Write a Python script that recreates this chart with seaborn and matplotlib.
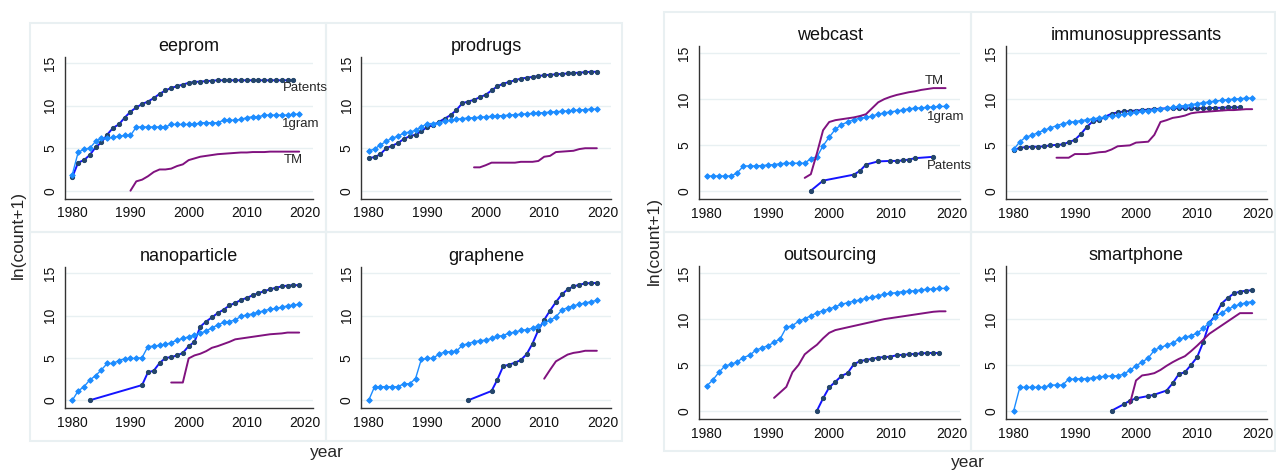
import matplotlib
matplotlib.use("Agg")
import matplotlib.pyplot as plt
from matplotlib.patches import Rectangle
import seaborn as sns

# ---------------- data (ln(count+1)) ----------------
eeprom_pat_years = list(range(1980, 2019))
eeprom_pat = [1.6, 3.3, 3.6, 4.2, 5.1, 5.7, 6.6, 7.4, 7.8, 8.6,
              9.3, 9.8, 10.2, 10.5, 10.9, 11.4, 11.8, 12.1, 12.3, 12.5,
              12.7, 12.8, 12.85, 12.9, 12.95, 13.0, 13.0, 13.0, 13.0, 13.0,
              13.0, 13.0, 13.0, 13.0, 13.0, 13.0, 13.0, 13.0, 13.0]
eeprom_gram_years = list(range(1980, 2020))
eeprom_gram = [1.9, 4.5, 4.9, 5.0, 5.8, 6.2, 6.2, 6.3, 6.4, 6.5,
               6.5, 7.5, 7.5, 7.5, 7.5, 7.5, 7.5, 7.8, 7.8, 7.8,
               7.8, 7.8, 8.0, 8.0, 8.0, 8.0, 8.3, 8.3, 8.3, 8.4,
               8.6, 8.7, 8.7, 8.9, 8.9, 8.9, 8.9, 8.9, 9.0, 9.0]
eeprom_tm_years = list(range(1990, 2020))
eeprom_tm = [0.0, 1.1, 1.3, 1.7, 2.2, 2.5, 2.5, 2.6, 2.9, 3.1,
             3.6, 3.8, 4.0, 4.1, 4.2, 4.3, 4.35, 4.4, 4.45, 4.5,
             4.5, 4.55, 4.55, 4.55, 4.6, 4.6, 4.6, 4.6, 4.6, 4.6]

prodrugs_pat_years = list(range(1980, 2020))
prodrugs_pat = [3.85, 3.95, 4.3, 5.0, 5.3, 5.6, 6.1, 6.4, 6.6, 7.0,
                7.5, 7.7, 8.1, 8.5, 8.9, 9.5, 10.3, 10.5, 10.7, 11.0,
                11.3, 11.8, 12.3, 12.6, 12.8, 13.0, 13.2, 13.3, 13.4, 13.5,
                13.6, 13.65, 13.7, 13.75, 13.8, 13.85, 13.9, 13.95, 14.0, 14.0]
prodrugs_gram_years = list(range(1980, 2020))
prodrugs_gram = [4.7, 4.9, 5.4, 5.8, 6.2, 6.4, 6.8, 6.9, 7.1, 7.5,
                 7.9, 7.9, 8.0, 8.2, 8.3, 8.4, 8.5, 8.55, 8.6, 8.65,
                 8.7, 8.75, 8.8, 8.85, 8.9, 8.95, 9.0, 9.05, 9.1, 9.15,
                 9.2, 9.25, 9.3, 9.35, 9.4, 9.45, 9.5, 9.55, 9.6, 9.6]
prodrugs_tm_years = list(range(1998, 2020))
prodrugs_tm = [2.75, 2.75,
               3.0, 3.3, 3.3, 3.3, 3.3, 3.3, 3.4, 3.4, 3.4, 3.5,
               4.0, 4.1, 4.55, 4.6, 4.65, 4.7, 4.9, 5.0, 5.0, 5.0]

nano_pat_years = [1983] + list(range(1992, 2020))
nano_pat = [0.0, 1.8, 3.3, 3.5, 4.4, 5.0, 5.1, 5.3, 5.6,
            6.4, 6.9, 8.7, 9.3, 9.8, 10.3, 10.7, 11.2, 11.5, 11.85,
            12.1, 12.4, 12.65, 12.9, 13.1, 13.3, 13.45, 13.55, 13.6, 13.6]
nano_gram_years = list(range(1980, 2020))
nano_gram = [0.0, 1.1, 1.6, 2.4, 2.9, 3.6, 4.35, 4.35, 4.7, 4.9,
             4.95, 4.95, 5.05, 6.35, 6.4, 6.5, 6.6, 6.8, 7.1, 7.3,
             7.5, 7.7, 7.9, 8.2, 8.55, 8.9, 9.2, 9.3, 9.5, 9.9,
             10.1, 10.2, 10.4, 10.6, 10.75, 10.85, 11.0, 11.15, 11.25, 11.35]
nano_tm_years = list(range(1997, 2020))
nano_tm = [2.1, 2.1, 2.1,
           4.95, 5.3, 5.5, 5.8, 6.2, 6.4, 6.65, 6.9, 7.2, 7.3,
           7.4, 7.5, 7.6, 7.7, 7.8, 7.85, 7.9, 8.0, 8.0, 8.0]

graphene_pat_years = [1997] + list(range(2001, 2020))
graphene_pat = [0.0, 1.1, 2.45, 4.05, 4.2, 4.45, 4.75, 5.45, 6.7, 8.3,
                9.5, 10.6, 11.6, 12.5, 13.1, 13.45, 13.65, 13.8, 13.85, 13.85]
graphene_gram_years = list(range(1980, 2020))
graphene_gram = [0.0, 1.6, 1.6, 1.6, 1.6, 1.6, 1.95, 1.95, 2.55, 4.85,
                 4.95, 4.95, 5.45, 5.7, 5.75, 5.8, 6.5, 6.7, 6.9, 7.05,
                 7.1, 7.3, 7.55, 7.65, 7.95, 8.05, 8.25, 8.35, 8.5, 8.75,
                 9.1, 9.45, 9.85, 10.65, 10.95, 11.15, 11.35, 11.5, 11.65, 11.8]
graphene_tm_years = list(range(2010, 2020))
graphene_tm = [2.55, 3.6, 4.6, 5.0, 5.4, 5.6, 5.7, 5.85, 5.85, 5.85]

webcast_pat_years = [1997, 1999, 2004, 2005, 2006, 2008, 2010, 2011, 2012, 2013, 2014, 2017]
webcast_pat = [0.0, 1.1, 1.75, 2.15, 2.85, 3.2, 3.25, 3.25, 3.3, 3.4, 3.55, 3.7]
webcast_gram_years = list(range(1980, 2020))
webcast_gram = [1.6, 1.6, 1.6, 1.6, 1.6, 1.95, 2.7, 2.7, 2.7, 2.75,
                2.8, 2.85, 2.95, 3.0, 3.0, 3.0, 3.0, 3.5, 3.7, 4.9,
                5.85, 6.7, 7.2, 7.5, 7.75, 7.9, 8.0, 8.15, 8.35, 8.5,
                8.6, 8.7, 8.8, 8.95, 9.0, 9.05, 9.1, 9.15, 9.2, 9.2]
webcast_tm_years = list(range(1996, 2020))
webcast_tm = [1.4, 1.8, 4.1, 6.6,
              7.5, 7.7, 7.8, 7.9, 8.0, 8.15, 8.35, 9.0, 9.65, 10.0,
              10.25, 10.45, 10.6, 10.75, 10.85, 11.0, 11.1, 11.2, 11.2, 11.2]

immuno_pat_years = list(range(1980, 2018))
immuno_pat = [4.4, 4.7, 4.75, 4.8, 4.8, 4.85, 4.95, 5.0, 5.05, 5.3,
              5.55, 6.2, 7.0, 7.6, 7.7, 8.1, 8.4, 8.55, 8.65, 8.7,
              8.75, 8.8, 8.85, 8.9, 8.95, 9.0, 9.0, 9.0, 9.0, 9.0,
              9.0, 9.0, 9.0, 9.05, 9.05, 9.1, 9.1, 9.1]
immuno_gram_years = list(range(1980, 2020))
immuno_gram = [4.5, 5.35, 5.85, 6.05, 6.35, 6.6, 6.85, 7.1, 7.3, 7.45,
               7.55, 7.65, 7.75, 7.85, 7.95, 8.05, 8.15, 8.25, 8.35, 8.45,
               8.55, 8.65, 8.75, 8.85, 8.9, 9.0, 9.1, 9.2, 9.3, 9.4,
               9.5, 9.6, 9.7, 9.8, 9.85, 9.95, 10.0, 10.05, 10.1, 10.1]
immuno_tm_years = list(range(1987, 2020))
immuno_tm = [3.6, 3.6, 3.6,
             4.0, 4.0, 4.0, 4.1, 4.2, 4.25, 4.5, 4.85, 4.9, 4.95,
             5.25, 5.3, 5.35, 6.1, 7.5, 7.7, 7.95, 8.05, 8.2, 8.45,
             8.55, 8.6, 8.65, 8.7, 8.75, 8.8, 8.8, 8.85, 8.9, 8.9]

outs_pat_years = list(range(1998, 2019))
outs_pat = [0.0, 1.35,
            2.55, 3.15, 3.8, 4.1, 5.05, 5.4, 5.55, 5.65, 5.8, 5.85,
            5.9, 6.05, 6.1, 6.15, 6.2, 6.25, 6.3, 6.3, 6.3]
outs_gram_years = list(range(1980, 2020))
outs_gram = [2.7, 3.35, 4.2, 4.9, 5.05, 5.35, 5.8, 6.05, 6.6, 6.85,
             7.1, 7.45, 7.85, 9.1, 9.3, 9.75, 10.05, 10.35, 10.7, 10.9,
             11.1, 11.35, 11.6, 11.8, 11.95, 12.1, 12.25, 12.4, 12.55, 12.7,
             12.8, 12.9, 13.0, 13.05, 13.1, 13.2, 13.25, 13.3, 13.35, 13.35]
outs_tm_years = list(range(1991, 2020))
outs_tm = [1.4, 2.0, 2.6, 4.2, 5.0, 6.15, 6.7, 7.2, 7.9,
           8.5, 8.8, 8.95, 9.1, 9.25, 9.4, 9.55, 9.7, 9.85, 10.0,
           10.1, 10.2, 10.3, 10.4, 10.5, 10.6, 10.7, 10.8, 10.85, 10.85]

smart_pat_years = [1996, 1998, 1999, 2000, 2002, 2003] + list(range(2005, 2020))
smart_pat = [0.0, 0.7, 1.1, 1.35, 1.6, 1.75,
             2.2, 3.0, 4.0, 4.2, 5.0, 5.85, 7.5, 9.6, 10.4, 11.7,
             12.3, 12.8, 13.0, 13.1, 13.15]
smart_gram_years = list(range(1980, 2020))
smart_gram = [0.0, 2.55, 2.55, 2.55, 2.55, 2.55, 2.8, 2.8, 2.8, 3.45,
              3.45, 3.5, 3.5, 3.6, 3.7, 3.75, 3.8, 3.8, 4.0, 4.4,
              4.9, 5.3, 5.75, 6.6, 6.9, 7.15, 7.4, 7.8, 8.0, 8.2,
              8.45, 9.0, 9.6, 10.2, 10.7, 11.05, 11.4, 11.6, 11.8, 11.9]
smart_tm_years = list(range(1999, 2020))
smart_tm = [0.75, 3.3, 3.85, 3.95, 4.1, 4.45, 4.9, 5.3, 5.65, 5.95,
            6.5, 7.1, 7.75, 8.4, 8.85, 9.3, 9.75, 10.2, 10.65, 10.65, 10.65]

terms = ["eeprom", "prodrugs", "nanoparticle", "graphene",
         "webcast", "immunosuppressants", "outsourcing", "smartphone"]
series = {
    "eeprom": [(eeprom_pat_years, eeprom_pat), (eeprom_gram_years, eeprom_gram), (eeprom_tm_years, eeprom_tm)],
    "prodrugs": [(prodrugs_pat_years, prodrugs_pat), (prodrugs_gram_years, prodrugs_gram), (prodrugs_tm_years, prodrugs_tm)],
    "nanoparticle": [(nano_pat_years, nano_pat), (nano_gram_years, nano_gram), (nano_tm_years, nano_tm)],
    "graphene": [(graphene_pat_years, graphene_pat), (graphene_gram_years, graphene_gram), (graphene_tm_years, graphene_tm)],
    "webcast": [(webcast_pat_years, webcast_pat), (webcast_gram_years, webcast_gram), (webcast_tm_years, webcast_tm)],
    "immunosuppressants": [(immuno_pat_years, immuno_pat), (immuno_gram_years, immuno_gram), (immuno_tm_years, immuno_tm)],
    "outsourcing": [(outs_pat_years, outs_pat), (outs_gram_years, outs_gram), (outs_tm_years, outs_tm)],
    "smartphone": [(smart_pat_years, smart_pat), (smart_gram_years, smart_gram), (smart_tm_years, smart_tm)],
}

# ---------------- layout (pixels in the 1276x471 picture) ----------------
W, H = 1276, 471
# x of 1980, x of 2020, y of value 0, y of value 15
plot_px = {
    "eeprom": (72.3, 305.0, 190.7, 63.3),
    "prodrugs": (368.7, 602.7, 190.7, 63.3),
    "nanoparticle": (72.3, 305.0, 400.3, 273.3),
    "graphene": (368.7, 602.7, 400.3, 273.3),
    "webcast": (706.7, 951.7, 190.7, 53.3),
    "immunosuppressants": (1013.7, 1258.3, 190.7, 53.3),
    "outsourcing": (706.7, 951.7, 410.7, 273.3),
    "smartphone": (1013.7, 1258.3, 410.7, 273.3),
}
# panel frames: x0, y0, x1, y1
frame_px = {
    "eeprom": (30, 23, 326, 232),
    "prodrugs": (326, 23, 622, 232),
    "nanoparticle": (30, 232, 326, 441),
    "graphene": (326, 232, 622, 441),
    "webcast": (664, 12, 971, 232),
    "immunosuppressants": (971, 12, 1275, 232),
    "outsourcing": (664, 232, 971, 451),
    "smartphone": (971, 232, 1275, 451),
}
XLIM = (1978.75, 2021.4)
YLIM = (-0.95, 15.8)

sns.set_style("white")
plt.rcParams["font.family"] = ["Liberation Sans", "DejaVu Sans"]

fig = plt.figure(figsize=(W / 100, H / 100), dpi=100)

for name in terms:
    fx0, fy0, fx1, fy1 = frame_px[name]
    fig.add_artist(Rectangle((fx0 / W, 1 - fy1 / H), (fx1 - fx0) / W, (fy1 - fy0) / H,
                             transform=fig.transFigure, fill=False,
                             edgecolor="#e9f0f2", linewidth=1.5, zorder=0))

    x80, x20, y0, y15 = plot_px[name]
    ppy = (x20 - x80) / 40.0
    ppu = (y0 - y15) / 15.0
    left = x80 - (1980 - XLIM[0]) * ppy
    right = x20 + (XLIM[1] - 2020) * ppy
    bottom = y0 - YLIM[0] * ppu
    top = y15 - (YLIM[1] - 15) * ppu
    ax = fig.add_axes([left / W, 1 - bottom / H, (right - left) / W, (bottom - top) / H])

    (pyr, pval), (gyr, gval), (tyr, tval) = series[name]
    sns.lineplot(x=pyr, y=pval, ax=ax, color="#1414ff", linewidth=1.4,
                 marker="o", markersize=3.0, markerfacecolor="#24466b",
                 markeredgecolor="#24466b", estimator=None, sort=False, zorder=3)
    sns.lineplot(x=gyr, y=gval, ax=ax, color="#1c8cff", linewidth=1.0,
                 marker="D", markersize=2.8, markerfacecolor="#1c8cff",
                 markeredgecolor="#1c8cff", estimator=None, sort=False, zorder=4)
    sns.lineplot(x=tyr, y=tval, ax=ax, color="#80127f", linewidth=1.4,
                 estimator=None, sort=False, zorder=5)

    ax.set_xlim(*XLIM)
    ax.set_ylim(*YLIM)
    ax.set_xticks([1980, 1990, 2000, 2010, 2020])
    ax.set_yticks([0, 5, 10, 15])
    ax.set_xticklabels(["1980", "1990", "2000", "2010", "2020"])
    ax.set_yticklabels(["0", "5", "10", "15"], rotation=90, va="center")
    ax.set_xlabel("")
    ax.set_ylabel("")
    ax.grid(axis="y", color="#e8f0f2", linewidth=1.0)
    ax.grid(axis="x", visible=False)
    ax.set_axisbelow(True)
    for s in ["top", "right"]:
        ax.spines[s].set_visible(False)
    for s in ["left", "bottom"]:
        ax.spines[s].set_color("#333333")
        ax.spines[s].set_linewidth(1.0)
    ax.tick_params(axis="both", direction="out", length=3.5, width=1.0,
                   color="#333333", labelsize=10, labelcolor="#111111", pad=2)
    ax.set_title(name, fontsize=13, pad=4, color="#111111")
    ax.patch.set_alpha(0)

    if name == "eeprom":
        ax.text(2016.2, 12.1, "Patents", fontsize=9.5, va="center", ha="left")
        ax.text(2016.1, 7.8, "1gram", fontsize=9.5, va="center", ha="left")
        ax.text(2016.4, 3.6, "TM", fontsize=9.5, va="center", ha="left")
    if name == "webcast":
        ax.text(2015.6, 12.0, "TM", fontsize=9.5, va="center", ha="left")
        ax.text(2016.0, 8.1, "1gram", fontsize=9.5, va="center", ha="left")
        ax.text(2016.0, 2.7, "Patents", fontsize=9.5, va="center", ha="left")

# shared axis titles for the two groups
fig.text(18 / W, 1 - 235 / H, "ln(count+1)", rotation=90, ha="center", va="center", fontsize=12.5)
fig.text(654 / W, 1 - 241 / H, "ln(count+1)", rotation=90, ha="center", va="center", fontsize=12.5)
fig.text(327 / W, 1 - 453 / H, "year", ha="center", va="center", fontsize=12.5)
fig.text(968 / W, 1 - 463 / H, "year", ha="center", va="center", fontsize=12.5)

fig.savefig("out.png", dpi=100)
